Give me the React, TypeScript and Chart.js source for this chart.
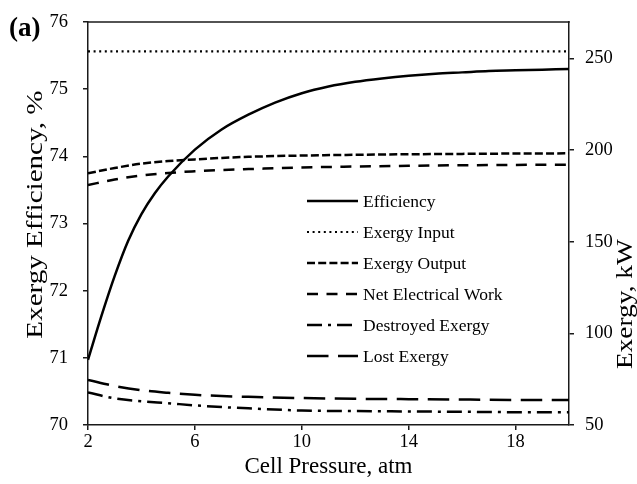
import React, { useEffect, useRef } from 'react';
import { Chart, registerables } from 'chart.js';

Chart.register(...registerables);

const FONT = '"Liberation Serif", "Times New Roman", Times, serif';

// Cell pressure (atm) for the exergy series
const pressure = [2, 3, 4, 5, 6, 7, 8, 10, 12, 14, 16, 18, 20];
// Cell pressure (atm) for the efficiency series
const effPressure = [2, 2.5, 3, 3.5, 4, 4.5, 5, 6, 7, 8, 9, 10, 11, 12, 13, 14, 15, 16, 17, 18, 19, 20];

// Exergy efficiency, % (left axis)
const efficiency = [70.97, 71.62, 72.22, 72.74, 73.14, 73.45, 73.7, 74.1, 74.4, 74.62, 74.8, 74.94, 75.04, 75.11, 75.16, 75.2, 75.23, 75.25, 75.27, 75.28, 75.29, 75.3];

// Exergy, kW (right axis)
const exergyInput = [254, 254, 254, 254, 254, 254, 254, 254, 254, 254, 254, 254, 254];
const exergyOutput = [187.4, 190.3, 192.7, 194.1, 195.0, 195.8, 196.4, 197.1, 197.5, 197.8, 198.0, 198.2, 198.3];
const netElectricalWork = [181.0, 184.0, 186.2, 187.6, 188.5, 189.2, 189.7, 190.6, 191.1, 191.5, 191.8, 192.0, 192.1];
const destroyedExergy = [67.8, 64.5, 63.0, 61.9, 60.7, 59.8, 59.1, 57.9, 57.6, 57.4, 57.2, 57.0, 56.9];
const lostExergy = [74.6, 71.3, 69.0, 67.6, 66.5, 65.8, 65.4, 64.7, 64.3, 64.1, 63.9, 63.7, 63.6];

const xTicks = [2, 6, 10, 14, 18];
const leftTicks = [70, 71, 72, 73, 74, 75, 76];
const rightTicks = [50, 100, 150, 200, 250];

const xTitle = 'Cell Pressure, atm';
const leftTitle = 'Exergy Efficiency, %';
const rightTitle = 'Exergy, kW';
const panelLabel = '(a)';

const zip = (xs: number[], ys: number[]) => xs.map((x, i) => ({ x, y: ys[i] }));

const AXIS = '#1a1a1a';

function drawVerticalTitle(ctx: any, text: string, cx: number, cy: number, size: number, length: number) {
  ctx.save();
  ctx.font = `${size}px ${FONT}`;
  const w = ctx.measureText(text).width;
  ctx.translate(cx, cy);
  ctx.rotate(-Math.PI / 2);
  ctx.scale(length / w, 1);
  ctx.textAlign = 'center';
  ctx.textBaseline = 'alphabetic';
  ctx.fillText(text, 0, 0);
  ctx.restore();
}

const overlay = {
  id: 'overlay',
  afterDraw(chart: any) {
    const { ctx, chartArea: a } = chart;
    ctx.save();
    // top frame line
    ctx.strokeStyle = AXIS;
    ctx.lineWidth = 1.5;
    ctx.setLineDash([]);
    ctx.beginPath();
    ctx.moveTo(a.left - 0.75, a.top);
    ctx.lineTo(a.right + 0.75, a.top);
    ctx.stroke();

    ctx.fillStyle = '#000';
    ctx.textBaseline = 'alphabetic';
    // x title
    ctx.font = `23px ${FONT}`;
    ctx.textAlign = 'center';
    ctx.fillText(xTitle, (a.left + a.right) / 2, a.bottom + 48);
    // axis titles
    drawVerticalTitle(ctx, leftTitle, a.left - 46, a.top + (a.bottom - a.top) * 0.478, 24, 248);
    drawVerticalTitle(ctx, rightTitle, a.right + 63, a.top + (a.bottom - a.top) * 0.70, 23, 130);
    // panel label
    ctx.font = `bold 27px ${FONT}`;
    ctx.textAlign = 'left';
    ctx.fillText(panelLabel, 9, 36);

    // legend
    ctx.font = `17.5px ${FONT}`;
    ctx.textBaseline = 'middle';
    chart.data.datasets.forEach((ds: any, i: number) => {
      const y = a.top + 179 + i * 31;
      const x0 = a.left + 219;
      const x1 = a.left + 270;
      ctx.strokeStyle = ds.borderColor;
      ctx.lineWidth = ds.borderWidth;
      ctx.setLineDash(ds.borderDash || []);
      ctx.beginPath();
      ctx.moveTo(x0, y);
      ctx.lineTo(x1, y);
      ctx.stroke();
      ctx.setLineDash([]);
      ctx.fillStyle = '#000';
      ctx.textAlign = 'left';
      ctx.fillText(ds.label, x1 + 5, y + 1);
    });
    ctx.restore();
  },
};

export default function App() {
  const ref = useRef<HTMLCanvasElement | null>(null);
  useEffect(() => {
    if (!ref.current) return;
    const base = {
      borderColor: '#000',
      borderWidth: 2.5,
      pointRadius: 0,
      fill: false,
      cubicInterpolationMode: 'monotone' as const,
    };
    const tickFont = { family: FONT, size: 18.5 };
    const chart = new Chart(ref.current, {
      type: 'line',
      data: {
        datasets: [
          { ...base, label: 'Efficiency', data: zip(effPressure, efficiency), yAxisID: 'y', borderDash: [] },
          { ...base, label: 'Exergy Input', data: zip(pressure, exergyInput), yAxisID: 'y1', borderDash: [2, 3.6], borderWidth: 2.2 },
          { ...base, label: 'Exergy Output', data: zip(pressure, exergyOutput), yAxisID: 'y1', borderDash: [8, 3.2] },
          { ...base, label: 'Net Electrical Work', data: zip(pressure, netElectricalWork), yAxisID: 'y1', borderDash: [11, 8.5] },
          { ...base, label: 'Destroyed Exergy', data: zip(pressure, destroyedExergy), yAxisID: 'y1', borderDash: [15, 6, 3, 6] },
          { ...base, label: 'Lost Exergy', data: zip(pressure, lostExergy), yAxisID: 'y1', borderDash: [21.5, 9.5] },
        ] as any,
      },
      options: {
        responsive: false,
        animation: false,
        devicePixelRatio: 1,
        layout: { padding: { top: 22, left: 0, right: 0, bottom: 0 } },
        plugins: { legend: { display: false }, tooltip: { enabled: false } },
        scales: {
          x: {
            type: 'linear',
            min: 2,
            max: 20,
            afterBuildTicks: (s: any) => { s.ticks = xTicks.map((v) => ({ value: v })); },
            afterFit: (s: any) => { s.height = 59; s.paddingLeft = 0; s.paddingRight = 0; },
            grid: { drawOnChartArea: false, drawTicks: true, tickLength: 5, color: AXIS, lineWidth: 1.5 },
            border: { color: AXIS, width: 1.5 },
            ticks: { font: tickFont, color: '#000', padding: 1, maxRotation: 0, autoSkip: false },
          },
          y: {
            type: 'linear',
            position: 'left',
            min: 70,
            max: 76,
            afterBuildTicks: (s: any) => { s.ticks = leftTicks.map((v) => ({ value: v })); },
            afterFit: (s: any) => { s.width = 88; s.paddingTop = 0; s.paddingBottom = 0; },
            grid: { drawOnChartArea: false, drawTicks: true, tickLength: 5, color: AXIS, lineWidth: 1.5 },
            border: { color: AXIS, width: 1.5 },
            ticks: { font: tickFont, color: '#000', padding: 15, autoSkip: false },
          },
          y1: {
            type: 'linear',
            position: 'right',
            min: 50,
            max: 270,
            afterBuildTicks: (s: any) => { s.ticks = rightTicks.map((v) => ({ value: v })); },
            afterFit: (s: any) => { s.width = 68; s.paddingTop = 0; s.paddingBottom = 0; },
            grid: { drawOnChartArea: false, drawTicks: true, tickLength: 5, color: AXIS, lineWidth: 1.5 },
            border: { color: AXIS, width: 1.5 },
            ticks: { font: tickFont, color: '#000', padding: 11, autoSkip: false },
          },
        },
      },
      plugins: [overlay],
    } as any);
    return () => chart.destroy();
  }, []);
  return (
    <div style={{ position: 'fixed', left: 0, top: 0, width: 637, height: 484, background: '#fff' }}>
      <canvas ref={ref} width={637} height={484} style={{ display: 'block' }} />
    </div>
  );
}
